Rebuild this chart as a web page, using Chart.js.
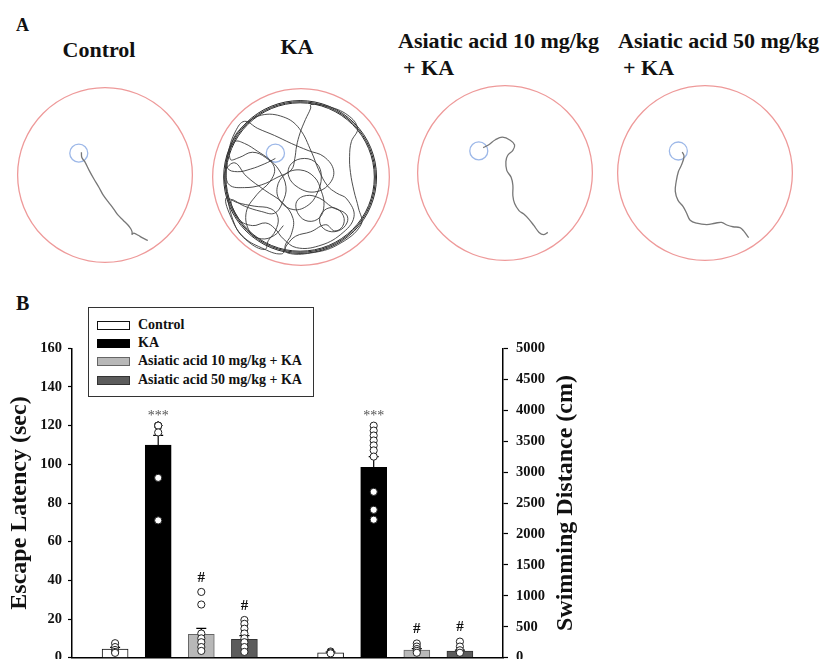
<!DOCTYPE html>
<html>
<head>
<meta charset="utf-8">
<script src="https://cdn.jsdelivr.net/npm/chart.js@4.4.1/dist/chart.umd.min.js"></script>
<style>
  html, body { margin: 0; padding: 0; background: #fff; overflow: hidden; }
  #page { position: relative; width: 826px; height: 659px; overflow: hidden;
          font-family: "Liberation Serif", "DejaVu Serif", serif; font-weight: bold; color: #111; }
  .lbl { position: absolute; white-space: nowrap; line-height: 1; }
  canvas { position: absolute; }
  #legendBox { position: absolute; left: 88px; top: 307px; width: 226px; height: 90px;
               border: 1px solid #333; box-sizing: border-box; background: #fff; }
  .legRow { position: absolute; left: 8px; height: 16px; width: 210px; }
  .sw { position: absolute; left: 0; top: 4px; width: 33px; height: 9px; border: 1px solid #111; box-sizing: border-box; }
  .lt { position: absolute; left: 41px; top: 0; font-size: 14px; line-height: 16px; white-space: nowrap; }
</style>
</head>
<body>
<div id="page">
  <div class="lbl" style="left:16px; top:16px; font-size:18px;">A</div>
  <div class="lbl" style="left:16px; top:293px; font-size:20px;">B</div>

  <div class="lbl" style="left:0; width:198px; text-align:center; top:38.6px; font-size:22px;">Control</div>
  <div class="lbl" style="left:197px; width:200px; text-align:center; top:36px; font-size:22px;">KA</div>
  <div class="lbl" style="left:398px; top:30.1px; font-size:22px;">Asiatic acid 10 mg/kg</div>
  <div class="lbl" style="left:403px; top:57.1px; font-size:22px;">+ KA</div>
  <div class="lbl" style="left:618px; top:30.1px; font-size:22px;">Asiatic acid 50 mg/kg</div>
  <div class="lbl" style="left:623px; top:57.1px; font-size:22px;">+ KA</div>

  <canvas id="arena0" width="180" height="180" style="left:15px; top:84.5px;"></canvas>
  <canvas id="arena1" width="182" height="182" style="left:210px; top:85.7px;"></canvas>
  <canvas id="arena2" width="180" height="180" style="left:414.6px; top:82.8px;"></canvas>
  <canvas id="arena3" width="180" height="180" style="left:615px; top:83px;"></canvas>

  <canvas id="barChart" width="620" height="400" style="left:0; top:290px;"></canvas>
  <div id="legendBox"></div>
</div>

<script>
// ---- panel B values ----
const groups = ['Control', 'KA', 'Asiatic acid 10 mg/kg + KA', 'Asiatic acid 50 mg/kg + KA'];
const groupFill = ['#ffffff', '#000000', '#b8b8b8', '#5c5c5c'];
const groupEdge = ['#111111', '#000000', '#666666', '#333333'];

const latencyMean = [4.5, 110, 12.1, 9.5];
const latencySem = [0.8, 5, 3.1, 1.9];
const latencyPoints = [
  [7.5, 5.5, 4, 3, 2.5],
  [120, 120, 120, 120, 120, 116.5, 93, 71],
  [34, 27.5, 12.5, 10, 8, 5.5, 3.5],
  [19.5, 17.5, 15, 12.5, 10, 8, 5.5, 3]
];

const distanceMean = [80, 3077, 124, 105];
const distanceSem = [12, 171, 22, 18];
const distancePoints = [
  [100, 85, 70],
  [3750, 3670, 3590, 3510, 3430, 3350, 3250, 2680, 2390, 2230],
  [230, 180, 140, 110, 80],
  [260, 180, 120, 80]
];

const sigMarks = ['', '***', '#', '#'];

// x slots (hidden labels): first group on the left axis, second on the right axis
const slotLabels = ['start', 'Control-s', 'KA-s', 'AA10-s', 'AA50-s', 'gap',
                    'Control-cm', 'KA-cm', 'AA10-cm', 'AA50-cm', 'end'];
const latencySlots = [1, 2, 3, 4];
const distanceSlots = [6, 7, 8, 9];

const latencyTicks = [0, 160, 20];    // min, max, step
const distanceTicks = [0, 5000, 500];

// ---- panel A swim tracks (pool centre = 0,0 ; pool radius = 100) ----
const POOL_RADIUS = 100;
const PLATFORM_RADIUS = 10.3;
const platforms = [[-30, 25], [-29, 27], [-30, 25.3], [-30.5, 25.2]];
const kaWallRings = [86.5, 85.2, 84];

const controlTrack = [[-27,26],[-26.5,20],[-23,15],[-18,5],[-13,-4],[-7,-14],[-2,-23],[4,-31],[10,-39],
  [15,-46],[21,-52],[26,-57],[29.5,-61.5],[31,-65],[31,-68],[33,-66.5],[38,-69],[43,-72],[49,-75]];

const kaTrack = [[-29,21],[-41,15],[-57,9],[-72,6],[-83,10],[-82,29],[-74,52],[-64,63],
  [-49,55],[-30,47],[-11,38],[8,30],
  [26,23],[37,7],[31,-9],[15,-17],[-3,-12],[-14,1],[-11,15],[4,21],[18,15],[23,0],[18,-19],
  [8,-32],[-8,-37],[-23,-28],[-27,-12],[-18,3],[-1,8],[15,0],[23,-16],
  [26,-32],[21,-46],[8,-50],[-3,-42],[-5,-28],[6,-21],[21,-24],[35,-34],
  [51,-42],[52,-52],[42,-61],[28,-60],[21,-50],[26,-38],[38,-35],[48,-44],[47,-56],[38,-61],[28,-54],
  [11,-62],[-6,-67],[-16,-77],[-22,-87],
  [-45,-80],[-66,-67],[-79,-46],[-85,-24],
  [-72,-29],[-53,-33],[-34,-36],[-26,-46],[-29,-61],[-37,-72],[-41,-82],
  [-60,-73],[-75,-54],[-85,-12],[-86,6],
  [-75,16],[-62,1],[-41,-15],[-21,-29],[-9,-47],[-11,-65],[-18,-78],[-15,-86],
  [11,-86],[41,-77],[68,-54],
  [65,-35],[60,-16],[56,5],[55,23],[57,40],[64,55],
  [53,70],[30,80],[11,82],
  [11,78],[5,65],[-1,50],[-5,35],[-7,21],[-11,8],[-26,0],[-45,-9],[-64,-12],[-81,-9],
  [-85,6],[-83,25],[-75,40],
  [-64,38],[-49,29],[-36,20],[-25,8],[-17,-11],[-21,-29],[-30,-41],
  [-45,-39],[-64,-33],[-79,-26],
  [-70,-48],[-55,-55],[-40,-52],[-30,-58],[-20,-70],[-5,-80],[20,-78],[45,-65],[60,-45],
  [52,-25],[40,-18],[30,-10],[20,8],[12,28],[-2,55],[-20,68],[-45,70],[-65,58],[-78,40],
  [-80,20],[-70,22],[-55,28],[-40,22],[-30,10],[-35,-5],[-50,-20],[-62,-40],[-58,-62],[-45,-70],
  [-30,-66],[-20,-55]];

const aa10Track = [[-25,29],[-19,32],[-11,38],[-3,41],[6,37.5],[11,32],[9,26],[3,20],[1,13],[2,3],
  [7,-5],[9,-14],[9,-26],[11,-35],[16,-43],[21.5,-47],[27,-52.5],[33,-60],[39,-68],[44,-70.5],[49,-68]];

const aa50Track = [[-26,24],[-24,19],[-27,9],[-30.5,1.5],[-33,-10],[-34,-21],[-31,-31],[-25,-38.5],
  [-21,-46],[-17,-54],[-9.5,-57.5],[2,-59],[11.5,-57.5],[19,-56.5],[25,-59.5],[32,-61.5],[40,-62.5],
  [44,-66],[50,-74]];

const arenaTracks = [controlTrack, kaTrack, aa10Track, aa50Track];
const trackColors = ['#777777', '#3a3a3a', '#777777', '#777777'];
const trackWidths = [1.3, 0.9, 1.3, 1.3];

const SERIF = '"Liberation Serif", "DejaVu Serif", serif';
Chart.defaults.font.family = SERIF;
Chart.defaults.animation = false;

// pool, platform and (for KA) the wall-hugging rings
const arenaRings = {
  id: 'arenaRings',
  beforeDatasetsDraw(chart, args, opts) {
    const { ctx, scales: { x, y } } = chart;
    const ring = (cx, cy, r, color, w) => {
      const px = x.getPixelForValue(cx), py = y.getPixelForValue(cy);
      ctx.beginPath();
      ctx.arc(px, py, Math.abs(x.getPixelForValue(cx + r) - px), 0, Math.PI * 2);
      ctx.strokeStyle = color;
      ctx.lineWidth = w;
      ctx.stroke();
    };
    ctx.save();
    ring(0, 0, POOL_RADIUS, '#ee9a9a', 1.3);
    (opts.walls || []).forEach(r => ring(-1, 0, r, '#2a2a2a', 1.0));
    ring(opts.platform[0], opts.platform[1], PLATFORM_RADIUS, '#9db8e8', 1.3);
    ctx.restore();
  }
};

arenaTracks.forEach((track, i) => {
  new Chart(document.getElementById('arena' + i), {
    type: 'scatter',
    data: {
      datasets: [{
        data: track.map(p => ({ x: p[0], y: p[1] })),
        showLine: true,
        pointRadius: 0,
        tension: 0.4,
        borderColor: trackColors[i],
        borderWidth: trackWidths[i]
      }]
    },
    options: {
      responsive: false,
      events: [],
      layout: { padding: 0 },
      scales: {
        x: { type: 'linear', min: -103, max: 103, display: false },
        y: { type: 'linear', min: -103, max: 103, display: false }
      },
      plugins: {
        legend: { display: false },
        tooltip: { enabled: false },
        arenaRings: { platform: platforms[i], walls: i === 1 ? kaWallRings : [] }
      }
    },
    plugins: [arenaRings]
  });
});

// ---- panel B ----
function slotArray(slots, values) {
  const out = new Array(slotLabels.length).fill(null);
  slots.forEach((s, i) => { out[s] = values[i]; });
  return out;
}

const errorBars = {
  id: 'errorBars',
  afterDatasetDraw(chart, args) {
    const ds = chart.data.datasets[args.index];
    if (!ds.sem) return;
    const ctx = chart.ctx;
    const yScale = chart.scales[ds.yAxisID];
    ctx.save();
    ctx.strokeStyle = '#000';
    ctx.lineWidth = 1.2;
    args.meta.data.forEach((bar, i) => {
      const m = ds.data[i], s = ds.sem[i];
      if (m == null || s == null) return;
      const top = yScale.getPixelForValue(m + s);
      ctx.beginPath();
      ctx.moveTo(bar.x, bar.y);
      ctx.lineTo(bar.x, top);
      ctx.moveTo(bar.x - 5, top);
      ctx.lineTo(bar.x + 5, top);
      ctx.stroke();
    });
    ctx.restore();
  }
};

const sigPlugin = {
  id: 'sigPlugin',
  afterDatasetsDraw(chart) {
    const ctx = chart.ctx;
    const x = chart.scales.x;
    const put = (slots, pts, axis) => {
      slots.forEach((s, g) => {
        const mark = sigMarks[g];
        if (!mark) return;
        const px = x.getPixelForValue(s);
        const topPx = chart.scales[axis].getPixelForValue(Math.max(...pts[g]));
        ctx.save();
        ctx.textAlign = 'center';
        ctx.textBaseline = 'middle';
        if (mark === '***') {
          ctx.font = '14px ' + SERIF;
          ctx.fillStyle = '#555';
          ctx.fillText(mark, px, topPx - 9);
        } else {
          ctx.font = 'bold 15px ' + SERIF;
          ctx.fillStyle = '#111';
          ctx.fillText(mark, px, topPx - 14);
        }
        ctx.restore();
      });
    };
    put(latencySlots, latencyPoints, 'y');
    put(distanceSlots, distancePoints, 'y1');
  }
};

const rightTitle = {
  id: 'rightTitle',
  afterDraw(chart) {
    const { ctx, chartArea } = chart;
    ctx.save();
    ctx.translate(chart.scales.y1.left + 63, (chartArea.top + chartArea.bottom) / 2);
    ctx.rotate(-Math.PI / 2);
    ctx.font = 'bold 24px ' + SERIF;
    ctx.textAlign = 'center';
    ctx.textBaseline = 'middle';
    ctx.fillStyle = '#111';
    ctx.fillText('Swimming Distance (cm)', 0, 0);
    ctx.restore();
  }
};

const pointDatasets = [];
groups.forEach((g, i) => {
  pointDatasets.push({
    type: 'scatter', label: g + ' latency', yAxisID: 'y', order: 0,
    data: latencyPoints[i].map(v => ({ x: slotLabels[latencySlots[i]], y: v }))
  });
  pointDatasets.push({
    type: 'scatter', label: g + ' distance', yAxisID: 'y1', order: 0,
    data: distancePoints[i].map(v => ({ x: slotLabels[distanceSlots[i]], y: v }))
  });
});
pointDatasets.forEach(d => Object.assign(d, {
  pointRadius: 3.6, pointBackgroundColor: '#ffffff', pointBorderColor: '#222222', pointBorderWidth: 1
}));

const tickFont = { size: 14.5, weight: 'bold' };

new Chart(document.getElementById('barChart'), {
  type: 'bar',
  data: {
    labels: slotLabels,
    datasets: [
      {
        label: 'Escape Latency', yAxisID: 'y', order: 2,
        data: slotArray(latencySlots, latencyMean),
        sem: slotArray(latencySlots, latencySem),
        backgroundColor: slotArray(latencySlots, groupFill),
        borderColor: slotArray(latencySlots, groupEdge)
      },
      {
        label: 'Swimming Distance', yAxisID: 'y1', order: 2,
        data: slotArray(distanceSlots, distanceMean),
        sem: slotArray(distanceSlots, distanceSem),
        backgroundColor: slotArray(distanceSlots, groupFill),
        borderColor: slotArray(distanceSlots, groupEdge)
      },
      ...pointDatasets
    ]
  },
  options: {
    responsive: false,
    events: [],
    layout: { padding: { top: 58.3, left: 0, right: 0, bottom: 0 } },
    datasets: { bar: { barThickness: 26, grouped: false, borderWidth: 1 } },
    scales: {
      x: {
        type: 'category', offset: false,
        grid: { display: false, drawTicks: false },
        ticks: { display: false },
        border: { color: '#000', width: 1.5 },
        afterFit: s => { s.height = 32.3; }
      },
      y: {
        position: 'left', min: latencyTicks[0], max: latencyTicks[1],
        ticks: { stepSize: latencyTicks[2], color: '#111', font: tickFont, padding: 6, callback: v => String(v) },
        grid: { drawOnChartArea: false, tickLength: 4, tickColor: '#000', tickWidth: 1.2 },
        border: { color: '#000', width: 1.5 },
        title: { display: true, text: 'Escape Latency (sec)', color: '#111',
                 font: { size: 24, weight: 'bold' }, padding: { top: 5.6, bottom: 0 } },
        afterFit: s => { s.width = 72; }
      },
      y1: {
        position: 'right', min: distanceTicks[0], max: distanceTicks[1],
        ticks: { stepSize: distanceTicks[2], color: '#111', font: tickFont, padding: 8, callback: v => String(v) },
        grid: { drawOnChartArea: false, tickLength: 5, tickColor: '#000', tickWidth: 1.2 },
        border: { color: '#000', width: 1.5 },
        afterFit: s => { s.width = 117; }
      }
    },
    plugins: { legend: { display: false }, tooltip: { enabled: false } }
  },
  plugins: [errorBars, sigPlugin, rightTitle]
});

// legend box inside the plot, built from the group arrays
const legendBox = document.getElementById('legendBox');
groups.forEach((name, i) => {
  const row = document.createElement('div');
  row.className = 'legRow';
  row.style.top = (8.5 + i * 18.4) + 'px';
  const sw = document.createElement('span');
  sw.className = 'sw';
  sw.style.background = groupFill[i];
  sw.style.borderColor = groupEdge[i];
  const t = document.createElement('span');
  t.className = 'lt';
  t.textContent = name;
  row.appendChild(sw);
  row.appendChild(t);
  legendBox.appendChild(row);
});
</script>
</body>
</html>
